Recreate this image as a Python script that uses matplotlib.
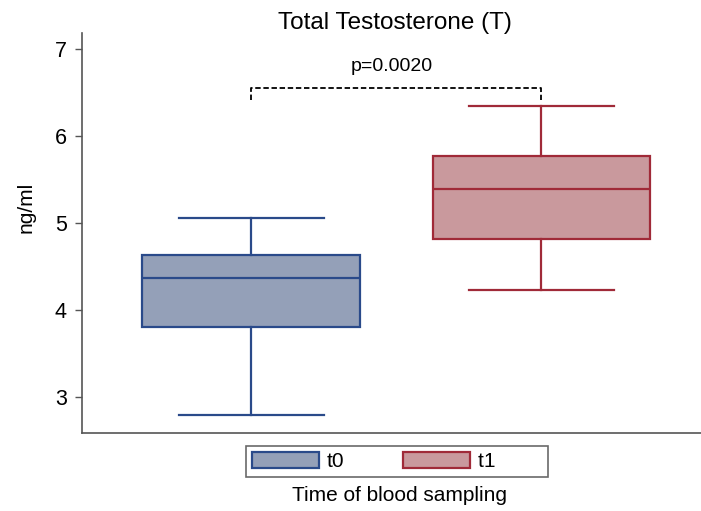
import matplotlib
matplotlib.use("Agg")
import matplotlib.pyplot as plt
from matplotlib.patches import Patch

plt.rcParams['font.family'] = ['Liberation Sans', 'DejaVu Sans']

# Data
groups = ["t0", "t1"]
q1 = [3.80, 4.81]
medians = [4.37, 5.39]
q3 = [4.63, 5.77]
whisker_low = [2.79, 4.23]
whisker_high = [5.06, 6.34]
p_text = "p=0.0020"
bracket_top = 6.55
bracket_bottom = 6.41
yticks = [3, 4, 5, 6, 7]

fills = ["#94a0b8", "#c9999d"]
edges = ["#2a4a8a", "#a02a38"]

fig = plt.figure(figsize=(7.01, 5.11), dpi=100)
ax = fig.add_axes([0.117, 0.1526, 0.883, 0.783])

positions = [1, 2]
for i in range(len(groups)):
    stats = [dict(med=medians[i], q1=q1[i], q3=q3[i],
                  whislo=whisker_low[i], whishi=whisker_high[i], fliers=[])]
    ax.bxp(stats, positions=[positions[i]], widths=0.75, patch_artist=True,
           showfliers=False, capwidths=0.5,
           boxprops=dict(facecolor=fills[i], edgecolor=edges[i], linewidth=1.6),
           medianprops=dict(color=edges[i], linewidth=1.6),
           whiskerprops=dict(color=edges[i], linewidth=1.6),
           capprops=dict(color=edges[i], linewidth=1.6))

# significance bracket
ax.plot([positions[0], positions[0], positions[1], positions[1]],
        [bracket_bottom, bracket_top, bracket_top, bracket_bottom],
        color="black", linestyle=(0, (3, 1.5)), linewidth=1.3)
ax.text((positions[0] + positions[1]) / 2 - 0.017, bracket_top + 0.15, p_text,
        ha="center", va="bottom", fontsize=14)

ax.set_xlim(0.417, 2.55)
ax.set_ylim(2.586, 7.18)
ax.set_yticks(yticks)
ax.set_yticklabels([str(t) for t in yticks], fontsize=15.5)
ax.set_xticks([])
ax.tick_params(axis='y', length=5, width=1, color="#555555", pad=6)
for s in ["top", "right"]:
    ax.spines[s].set_visible(False)
for s in ["left", "bottom"]:
    ax.spines[s].set_color("#555555")
    ax.spines[s].set_linewidth(1.2)

fig.text(0.563, 0.955, "Total Testosterone (T)", ha="center", va="center", fontsize=17.5)
fig.text(0.037, 0.595, "ng/ml", rotation=90, ha="center", va="center", fontsize=15)
fig.text(0.570, 0.031, "Time of blood sampling", ha="center", va="center", fontsize=15)

# Stata-style legend: equal-width columns leave room after the last label
handles = [Patch(facecolor=fills[i], edgecolor=edges[i], linewidth=1.6) for i in range(2)]
labels = [groups[0], groups[1] + " " * 8]
leg = fig.legend(handles, labels, loc="center", bbox_to_anchor=(0.566, 0.097),
                 ncol=2, fontsize=15, frameon=True, fancybox=False,
                 handlelength=3.2, handleheight=0.8, columnspacing=2.8,
                 handletextpad=0.4, borderpad=0.3, borderaxespad=0)
leg.get_frame().set_edgecolor("#444444")
leg.get_frame().set_linewidth(1.2)

fig.savefig("out.png", dpi=100)
